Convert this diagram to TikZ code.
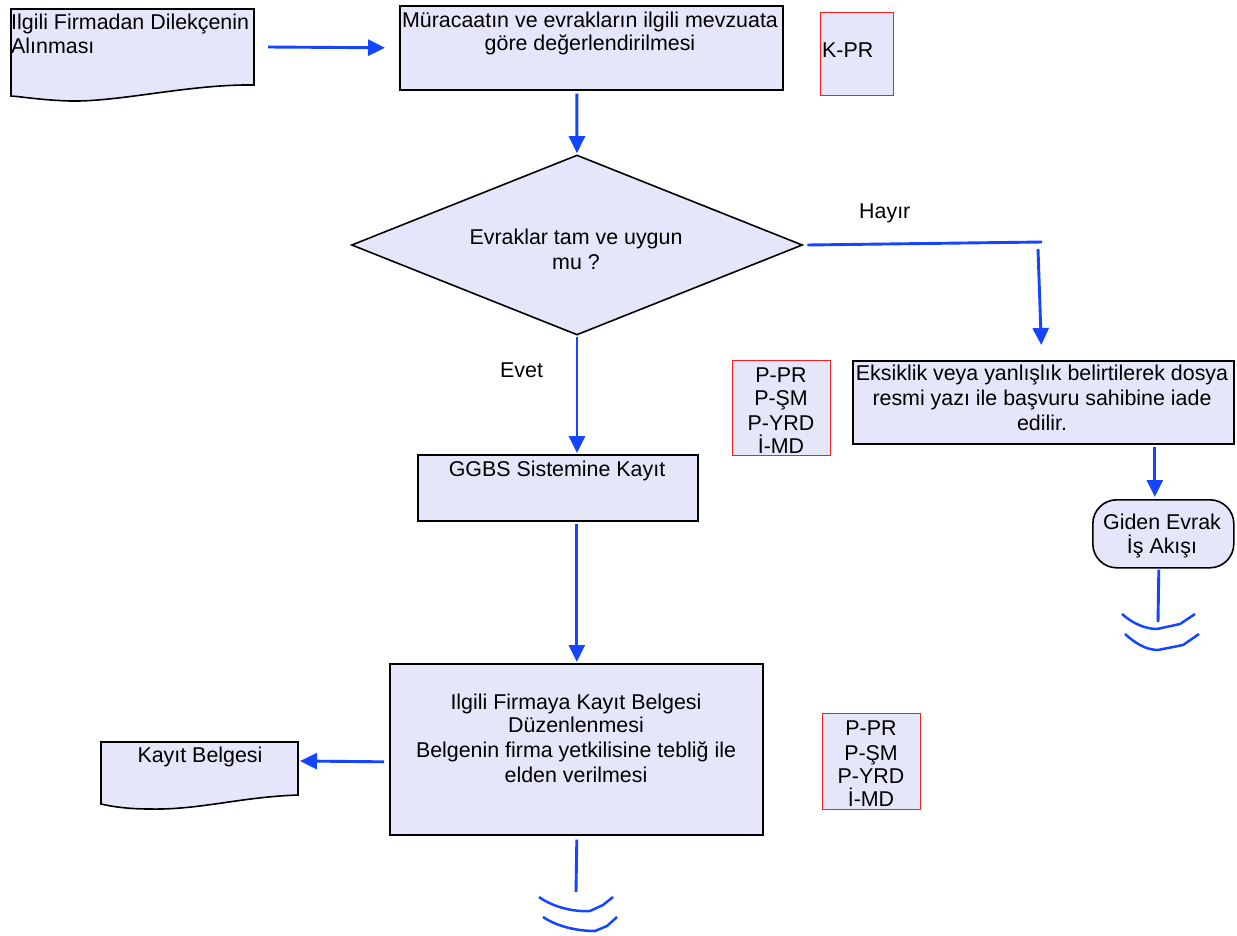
\documentclass[tikz,border=0pt]{standalone}
\usepackage{fontspec}
\setmainfont{Liberation Sans}
\usetikzlibrary{arrows.meta,shapes.geometric}
\definecolor{boxfill}{RGB}{230,230,250}
\definecolor{flowblue}{RGB}{20,70,255}
\definecolor{redline}{RGB}{250,30,30}
\begin{document}
\begin{tikzpicture}[x=1pt,y=-1pt,
  box/.style={draw=black,line width=1.6pt,fill=boxfill},
  rbox/.style={rectangle,draw=black,line width=1.6pt,fill=boxfill,inner sep=0pt,anchor=north west},
  redbox/.style={rectangle,draw=redline,line width=1.3pt,fill=boxfill,inner sep=0pt,anchor=north west},
  flow/.style={draw=flowblue,line width=2.9pt,-{Triangle[length=17pt,width=16pt]}},
  plainflow/.style={draw=flowblue,line width=2.9pt},
  squig/.style={draw=flowblue,line width=2.5pt,line join=round},
  lbl/.style={anchor=base,inner sep=0pt,font=\fontsize{21.4}{24}\selectfont},
  lbll/.style={lbl,anchor=base west}]
\useasboundingbox[fill=white] (0,0) rectangle (1237,935);

% document shapes
\draw[box] (11,9) -- (254,9) -- (254,85) .. controls (190,84) and (120,102) .. (70,101) .. controls (40,100) and (25,97) .. (11,96) -- cycle;
\coordinate (d1e) at (254,47);
\draw[box] (101,742) -- (298,742) -- (298,795) .. controls (240,797) and (200,810) .. (150,809) .. controls (125,809) and (110,806) .. (101,804) -- cycle;
\coordinate (d2e) at (298,761);

% boxes
\node[rbox,minimum width=383pt,minimum height=84pt] (b2) at (399,5) {};
\node[redbox,minimum width=73pt,minimum height=83pt] (kpr) at (820,12) {};
\node[diamond,draw=black,line width=1.6pt,fill=boxfill,inner sep=0pt,minimum width=451pt,minimum height=180pt] (dia) at (577,245) {};
\node[redbox,minimum width=98pt,minimum height=95pt] (ppr1) at (732,360) {};
\node[rbox,minimum width=381pt,minimum height=83pt] (eks) at (852,360) {};
\node[rbox,rounded corners=24pt,minimum width=141pt,minimum height=68pt] (term) at (1092,499) {};
\node[rbox,minimum width=280pt,minimum height=66pt] (ggbs) at (417,454) {};
\node[rbox,minimum width=373pt,minimum height=171pt] (big) at (389,663) {};
\node[redbox,minimum width=98pt,minimum height=96pt] (ppr2) at (822,713) {};

% texts
\node[lbll] (t1) at (11,29) {Ilgili Firmadan Dilekçenin};
\node[lbll] (t2) at (11,53) {Alınması};
\node[lbl] (t3) at (590,27) {Müracaatın ve evrakların ilgili mevzuata};
\node[lbl] (t4) at (590,50) {göre değerlendirilmesi};
\node[lbll] (t5) at (822,57) {K-PR};
\node[lbl] (t6) at (576,244) {Evraklar tam ve uygun};
\node[lbl] (t7) at (576,269) {mu ?};
\node[lbll] (t8) at (859,218) {Hayır};
\node[lbll] (t9) at (500,377) {Evet};
\node[lbl] (p1a) at (781,382) {P-PR};
\node[lbl] (p1b) at (781,405) {P-ŞM};
\node[lbl] (p1c) at (781,430) {P-YRD};
\node[lbl] (p1d) at (781,453) {İ-MD};
\node[lbl] (e1) at (1042,380) {Eksiklik veya yanlışlık belirtilerek dosya};
\node[lbl] (e2) at (1042,405) {resmi yazı ile başvuru sahibine iade};
\node[lbl] (e3) at (1042,430) {edilir.};
\node[lbl] (g1) at (1162,529) {Giden Evrak};
\node[lbl] (g2) at (1162,553) {İş Akışı};
\node[lbl] (k1) at (557,476) {GGBS Sistemine Kayıt};
\node[lbl] (f1) at (576,709) {Ilgili Firmaya Kayıt Belgesi};
\node[lbl] (f2) at (576,732) {Düzenlenmesi};
\node[lbl] (f3) at (576,757) {Belgenin firma yetkilisine tebliğ ile};
\node[lbl] (f4) at (576,782) {elden verilmesi};
\node[lbl] (kb) at (200,762) {Kayıt Belgesi};
\node[lbl] (p2a) at (871,735) {P-PR};
\node[lbl] (p2b) at (871,760) {P-ŞM};
\node[lbl] (p2c) at (871,783) {P-YRD};
\node[lbl] (p2d) at (871,806) {İ-MD};

% connectors
\coordinate (h1) at (1042,242);
\coordinate (h2) at (1038,249);
\coordinate (tend) at (1158,622);
\coordinate (bend) at (576,892);
\draw[flow] ([xshift=14pt]d1e) -- ([xshift=-14pt]b2.west);
\draw[flow] ([xshift=-14.5pt,yshift=-3pt]b2.south) -- ([yshift=1pt]dia.north);
\draw[plainflow] ([xshift=4pt]dia.east) -- (h1);
\draw[flow] (h2) -- ([xshift=-2pt,yshift=15pt]eks.north);
\draw[flow] ([yshift=-1pt]dia.south) -- ([yshift=1pt]dia.south |- ggbs.north);
\draw[flow] ([xshift=111.5pt,yshift=-2pt]eks.south) -- ([xshift=-8.5pt,yshift=2pt]term.north);
\draw[plainflow] ([xshift=-4.5pt,yshift=-1pt]term.south) -- (tend);
\draw[flow] ([xshift=19pt,yshift=-2pt]ggbs.south) -- ([xshift=0.5pt,yshift=1pt]big.north);
\draw[flow] ([xshift=-5pt,yshift=-12.5pt]big.west) -- ([xshift=2pt]d2e);
\draw[plainflow] ([xshift=0.5pt,yshift=-4pt]big.south) -- (bend);

% end squiggles
\draw[squig] (1122,614) .. controls (1132,623) and (1145,629) .. (1157,629) -- (1180,624) -- (1195,614);
\draw[squig] (1125,634) .. controls (1135,643) and (1146,650) .. (1158,650) -- (1183,645) -- (1199,634);
\draw[squig] (539,897) .. controls (553,907) and (573,912) .. (590,911) -- (603,905) -- (613,897);
\draw[squig] (543,917) .. controls (558,927) and (578,931) .. (595,931) -- (607,926) -- (617,917);
\end{tikzpicture}
\end{document}
